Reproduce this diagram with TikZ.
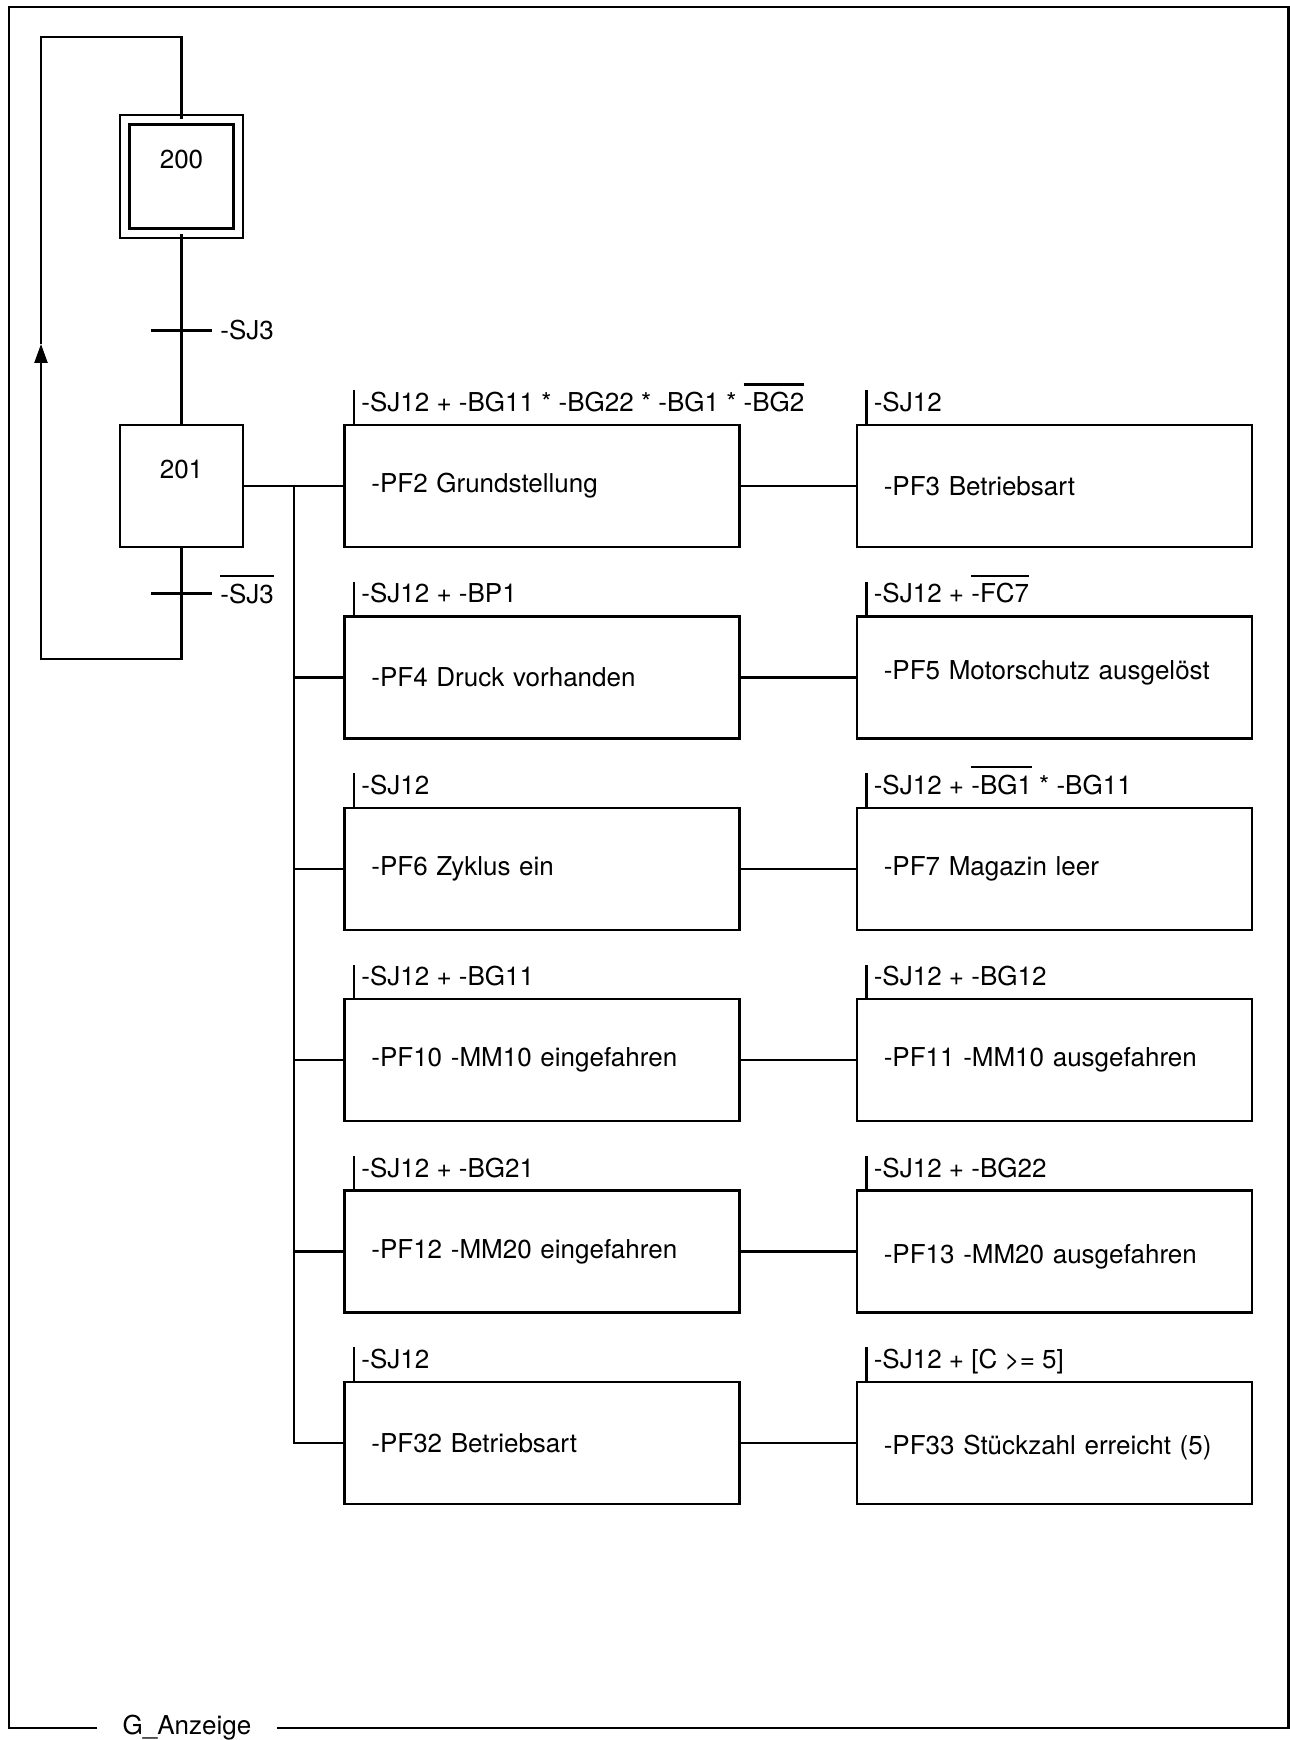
\documentclass[tikz,border=0pt]{standalone}
\usepackage{fontspec}
\setmainfont{TeX Gyre Heros}
\usetikzlibrary{arrows.meta,positioning,calc}
% overlined (negated) signal
\newcommand\notsig[1]{\setbox0\hbox{#1}\rlap{\raisebox{13pt}[0pt][0pt]{\rule{\wd0}{1.1pt}}}\box0\relax}

\begin{document}
\begin{tikzpicture}[x=1pt,y=1pt,line width=1.2pt,node distance=33.5pt and 57.5pt,
 font=\fontsize{13}{15}\selectfont,
 gstep/.style={draw,minimum width=61.5pt,minimum height=61pt,text height=9.3pt,text depth=16.9pt},
 initstep/.style={gstep,double,double distance=3.55pt,minimum width=56.75pt,
              minimum height=56.75pt,text depth=17.4pt},
 trans/.style={fill,minimum width=30.5pt,minimum height=1.2pt,inner sep=0pt},
 action/.style={draw,minimum width=197.5pt,minimum height=61pt,text width=170.5pt,
              inner xsep=13.5pt,align=left},
 cond/.style={anchor=south west,inner xsep=3pt,inner ysep=0pt,text height=10pt,text depth=5.5pt}]
\useasboundingbox (0,0) rectangle (645,870);
% frame
\node[inner xsep=12pt] (frame label) at (93.5,6) {G\_Anzeige};
\draw (frame label.west) -| (4.5,866.5) -| (644.2,6) -- (frame label.east);
% steps and transitions
\node[gstep] (s201) at (90.75,627) {201};
\node[initstep] (s200) at (90.75,781.75) {200};
\node[trans,above=45.5pt of s201,label={[inner sep=0pt,label distance=3pt]east:-SJ3}] (t1) {};
\node[trans,below=21.5pt of s201,label={[inner sep=0pt,label distance=3pt]east:\notsig{-SJ3}}] (t2) {};
\draw (s200) -- (s201);
\coordinate (loop bl) at (20.5,540.5);
\coordinate (loop tip) at (20.5,698);
\coordinate (loop tl) at (20.5,851.5);
\draw[-{Triangle[length=9.5pt,width=6.5pt]}] (s201.south) |- (loop bl) -- (loop tip);
\draw (loop tip) -- (loop tl) -| (s200.north);
% actions
\node[action,right=49.5pt of s201] (pf2) {-PF2 Grundstellung};
\node[action,right=of pf2] (pf3) {-PF3 Betriebsart};
\node[action,below=of pf2] (pf4) {-PF4 Druck vorhanden};
\node[action,right=of pf4] (pf5) {\raisebox{2.2pt}[\height][\depth]{-PF5 Motorschutz ausgelöst}};
\node[action,below=of pf4] (pf6) {-PF6 Zyklus ein};
\node[action,right=of pf6] (pf7) {-PF7 Magazin leer};
\node[action,below=of pf6] (pf10) {-PF10 -MM10 eingefahren};
\node[action,right=of pf10] (pf11) {-PF11 -MM10 ausgefahren};
\node[action,below=of pf10] (pf12) {-PF12 -MM20 eingefahren};
\node[action,right=of pf12] (pf13) {\raisebox{-2.5pt}[\height][\depth]{-PF13 -MM20 ausgefahren}};
\node[action,below=of pf12] (pf32) {-PF32 Betriebsart};
\node[action,right=of pf32] (pf33) {\raisebox{-2.2pt}[\height][\depth]{-PF33 Stückzahl erreicht (5)}};
% action conditions
\node[cond] (c2) at ([xshift=5.5pt]pf2.north west) {-SJ12 + -BG11 * -BG22 * -BG1 * \notsig{-BG2}};
\node[cond] (c3) at ([xshift=5.5pt]pf3.north west) {-SJ12};
\node[cond] (c4) at ([xshift=5.5pt]pf4.north west) {-SJ12 + -BP1};
\node[cond] (c5) at ([xshift=5.5pt]pf5.north west) {-SJ12 + \notsig{-FC7}};
\node[cond] (c6) at ([xshift=5.5pt]pf6.north west) {-SJ12};
\node[cond] (c7) at ([xshift=5.5pt]pf7.north west) {-SJ12 + \notsig{-BG1} * -BG11};
\node[cond] (c10) at ([xshift=5.5pt]pf10.north west) {-SJ12 + -BG11};
\node[cond] (c11) at ([xshift=5.5pt]pf11.north west) {-SJ12 + -BG12};
\node[cond] (c12) at ([xshift=5.5pt]pf12.north west) {-SJ12 + -BG21};
\node[cond] (c13) at ([xshift=5.5pt]pf13.north west) {-SJ12 + -BG22};
\node[cond] (c32) at ([xshift=5.5pt]pf32.north west) {-SJ12};
\node[cond] (c33) at ([xshift=5.5pt]pf33.north west) {-SJ12 + [C >= 5]};
\draw (c2.south west) -- (c2.north west) (c3.south west) -- (c3.north west)
      (c4.south west) -- (c4.north west) (c5.south west) -- (c5.north west)
      (c6.south west) -- (c6.north west) (c7.south west) -- (c7.north west)
      (c10.south west) -- (c10.north west) (c11.south west) -- (c11.north west)
      (c12.south west) -- (c12.north west) (c13.south west) -- (c13.north west)
      (c32.south west) -- (c32.north west) (c33.south west) -- (c33.north west);
% branch to the actions
\coordinate (fork) at ($(s201.east)!.5!(pf2.west)$);
\draw (s201.east) -- (pf2.west);
\draw (fork) |- (pf32.west);
\draw (fork |- pf4.west) -- (pf4.west);
\draw (fork |- pf6.west) -- (pf6.west);
\draw (fork |- pf10.west) -- (pf10.west);
\draw (fork |- pf12.west) -- (pf12.west);
\draw (pf2) -- (pf3);
\draw (pf4) -- (pf5);
\draw (pf6) -- (pf7);
\draw (pf10) -- (pf11);
\draw (pf12) -- (pf13);
\draw (pf32) -- (pf33);
\end{tikzpicture}
\end{document}
